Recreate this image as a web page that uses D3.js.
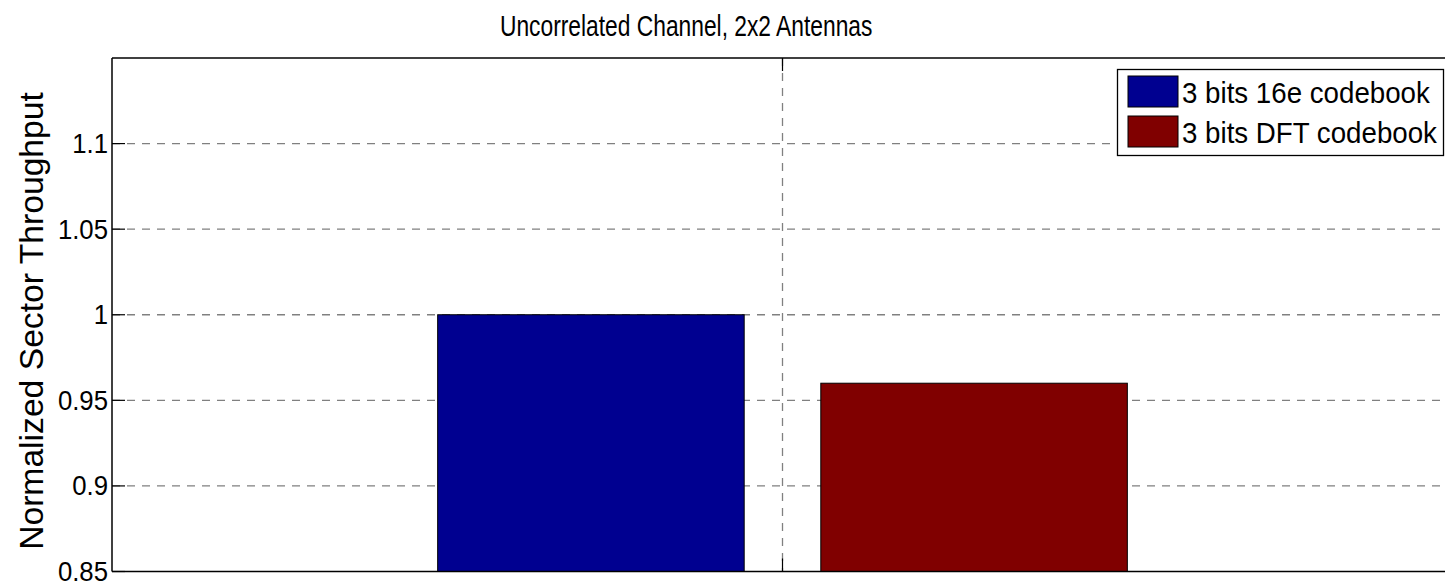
<!DOCTYPE html>
<html>
<head>
<meta charset="utf-8">
<script src="https://cdn.jsdelivr.net/npm/d3@7"></script>
<style>
  html, body { margin: 0; padding: 0; background: #fff; }
  svg { display: block; }
  text { font-family: "Liberation Sans", Arial, Helvetica, sans-serif; fill: #000; }
</style>
</head>
<body>
<svg id="chart" width="1445" height="588"></svg>
<script>
// ---- data ----
const groups = [1];
const seriesNames = ["3 bits 16e codebook", "3 bits DFT codebook"];
const seriesValues = [1.0, 0.96];
const seriesColors = ["#000090", "#800000"];
const yTicks = [0.85, 0.9, 0.95, 1, 1.05, 1.1];
const yTickLabels = ["0.85", "0.9", "0.95", "1", "1.05", "1.1"];
const titleText = "Uncorrelated Channel, 2x2 Antennas";
const yLabelText = "Normalized Sector Throughput";

// ---- layout ----
const svg = d3.select("#chart");
const plot = { left: 112, top: 58, right: 1453, bottom: 571.5 };

const x = d3.scaleLinear().domain([0.5, 1.5]).range([plot.left, plot.right]);
const y = d3.scaleLinear().domain([0.85, 1.15]).range([plot.bottom, plot.top]);

// MATLAB grouped bar geometry
const nb = seriesValues.length;
const groupWidth = Math.min(0.8, nb / (nb + 1.5));
const barWidth = 0.8 * groupWidth / nb;
const offsetOf = i => -groupWidth / 2 + (i + 0.5) * groupWidth / nb;

svg.append("defs").append("clipPath").attr("id", "pclip")
  .append("rect").attr("x", plot.left).attr("y", plot.top)
  .attr("width", plot.right - plot.left).attr("height", plot.bottom - plot.top);

const g = svg.append("g");

// grid lines
const dash = "8,7";
g.append("g").selectAll("line").data(yTicks.filter(t => t > 0.85)).join("line")
  .attr("x1", plot.left).attr("x2", plot.right)
  .attr("y1", d => y(d)).attr("y2", d => y(d))
  .attr("stroke", "#808080").attr("stroke-width", 1.3).attr("stroke-dasharray", dash);
g.append("g").selectAll("line").data(groups).join("line")
  .attr("x1", d => x(d)).attr("x2", d => x(d))
  .attr("y1", plot.top).attr("y2", plot.bottom)
  .attr("stroke", "#808080").attr("stroke-width", 1.3).attr("stroke-dasharray", dash);

// bars
const barData = seriesValues.map((v, i) => ({ v, i, gx: groups[0] }));
g.append("g").attr("clip-path", "url(#pclip)").selectAll("rect").data(barData).join("rect")
  .attr("x", d => x(d.gx + offsetOf(d.i) - barWidth / 2))
  .attr("width", d => x(d.gx + offsetOf(d.i) + barWidth / 2) - x(d.gx + offsetOf(d.i) - barWidth / 2))
  .attr("y", d => y(d.v))
  .attr("height", d => y(0.85) - y(d.v))
  .attr("fill", d => seriesColors[d.i])
  .attr("stroke", "#000").attr("stroke-width", 1);

// axes box
const ax = svg.append("g").attr("stroke", "#000").attr("stroke-width", 1.5).attr("fill", "none");
ax.append("line").attr("x1", plot.left).attr("x2", plot.right).attr("y1", plot.top).attr("y2", plot.top);
ax.append("line").attr("x1", plot.left).attr("x2", plot.right).attr("y1", plot.bottom).attr("y2", plot.bottom);
ax.append("line").attr("x1", plot.left).attr("x2", plot.left).attr("y1", plot.top).attr("y2", plot.bottom);

// ticks (inside)
const tl = 13;
svg.append("g").selectAll("line").data(yTicks).join("line")
  .attr("x1", plot.left).attr("x2", plot.left + tl)
  .attr("y1", d => y(d)).attr("y2", d => y(d))
  .attr("stroke", "#000").attr("stroke-width", 1.2);
svg.append("g").selectAll("line").data(groups).join("line")
  .attr("x1", d => x(d)).attr("x2", d => x(d))
  .attr("y1", plot.bottom).attr("y2", plot.bottom - tl)
  .attr("stroke", "#000").attr("stroke-width", 1.2);
svg.append("g").selectAll("line").data(groups).join("line")
  .attr("x1", d => x(d)).attr("x2", d => x(d))
  .attr("y1", plot.top).attr("y2", plot.top + tl)
  .attr("stroke", "#000").attr("stroke-width", 1.2);

// y tick labels
svg.append("g").selectAll("text").data(yTicks).join("text")
  .attr("transform", d => `translate(${plot.left - 4},${y(d)}) scale(0.92,1)`)
  .attr("text-anchor", "end").attr("dominant-baseline", "central")
  .attr("font-size", 28)
  .text((d, i) => yTickLabels[i]);

// title
svg.append("text")
  .attr("transform", "translate(500,36) scale(0.76,1)")
  .attr("font-size", 30)
  .text(titleText);

// y label
svg.append("text")
  .attr("transform", "translate(43,321) rotate(-90) scale(0.99,1)")
  .attr("text-anchor", "middle")
  .attr("font-size", 34)
  .text(yLabelText);

// legend
const lg = svg.append("g");
lg.append("rect").attr("x", 1117.5).attr("y", 69.5).attr("width", 326).attr("height", 86)
  .attr("fill", "#fff").attr("stroke", "#000").attr("stroke-width", 1.3);
const rows = seriesNames.map((n, i) => ({ n, i }));
lg.selectAll("rect.sw").data(rows).join("rect")
  .attr("x", 1128).attr("y", d => 76 + d.i * 40)
  .attr("width", 50).attr("height", 31)
  .attr("fill", d => seriesColors[d.i]).attr("stroke", "#000").attr("stroke-width", 1);
lg.selectAll("text").data(rows).join("text")
  .attr("transform", d => `translate(1182,${103 + d.i * 40}) scale(0.955,1)`)
  .attr("font-size", 29)
  .text(d => d.n);
</script>
</body>
</html>
